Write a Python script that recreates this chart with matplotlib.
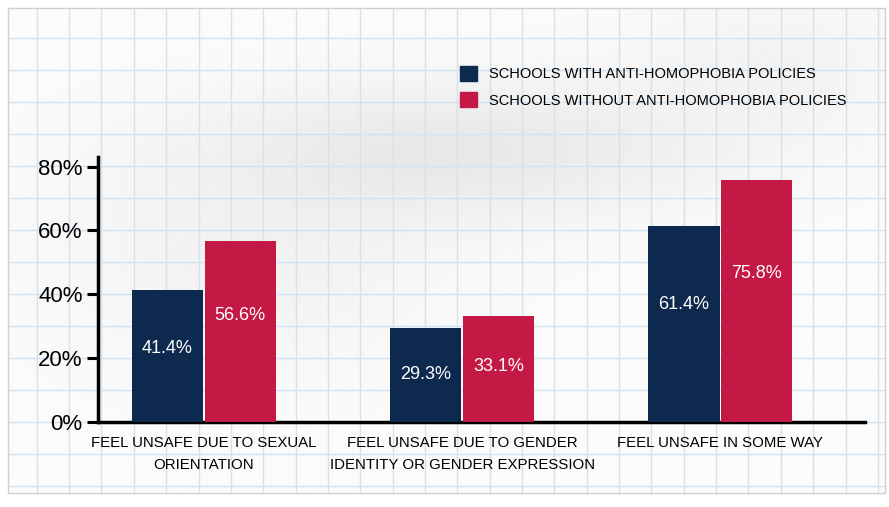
import numpy as np
import matplotlib
matplotlib.use("Agg")
import matplotlib.pyplot as plt
from matplotlib.patches import Patch

# Data
CATEGORIES = ["FEEL UNSAFE DUE TO SEXUAL\nORIENTATION",
              "FEEL UNSAFE DUE TO GENDER\nIDENTITY OR GENDER EXPRESSION",
              "FEEL UNSAFE IN SOME WAY"]
WITH_POLICY    = [41.4, 29.3, 61.4]
WITHOUT_POLICY = [56.6, 33.1, 75.8]
SERIES_NAMES   = ["SCHOOLS WITH ANTI-HOMOPHOBIA POLICIES",
                  "SCHOOLS WITHOUT ANTI-HOMOPHOBIA POLICIES"]
Y_TICKS        = [0, 20, 40, 60, 80]

NAVY    = "#0d2a4e"
CRIMSON = "#c41944"
GRID_BLUE = "#d3e2ee"

plt.rcParams['font.family'] = ['Liberation Sans', 'DejaVu Sans']

W, H = 889, 507
fig = plt.figure(figsize=(W / 100, H / 100), dpi=100)
fig.patch.set_facecolor("white")

# ─── background: grid paper sheet ───────────────────────────────────────────
bg = fig.add_axes([0, 0, 1, 1], zorder=-5)
bg.set_xlim(0, W); bg.set_ylim(H, 0); bg.axis("off")
px0, px1, py0, py1 = 8, 885, 8, 493
xx, yy = np.meshgrid(np.linspace(px0, px1, 300), np.linspace(py0, py1, 200))
shade = (0.985
         - 0.07 * np.exp(-(((xx - 470) / 260) ** 2 + ((yy - 150) / 70) ** 2))
         - 0.035 * np.exp(-(((xx - 250) / 200) ** 2 + ((yy - 260) / 120) ** 2))
         - 0.03 * np.exp(-(((xx - 780) / 150) ** 2 + ((yy - 60) / 80) ** 2)))
bg.imshow(shade, cmap="gray", vmin=0, vmax=1, extent=[px0, px1, py1, py0],
          aspect="auto", interpolation="bilinear")
for gx in np.arange(4.4, px1, 32.35):
    if gx > px0:
        bg.plot([gx, gx], [py0, py1], color=GRID_BLUE, lw=1)
for gy in np.arange(6, py1, 32.0):
    if gy > py0:
        bg.plot([px0, px1], [gy, gy], color=GRID_BLUE, lw=1)
bg.plot([px0, px1, px1, px0, px0], [py0, py0, py1, py1, py0], color="#d0d0d0", lw=1)
bg.set_xlim(0, W); bg.set_ylim(H, 0)

# ─── main chart ─────────────────────────────────────────────────────────────
ax = fig.add_axes([98 / W, 1 - 422 / H, 767 / W, 265 / H])
ax.set_facecolor("none")
x = np.arange(len(CATEGORIES))
bw = 0.276
off = 0.141
ax.bar(x - off, WITH_POLICY, bw, color=NAVY, label=SERIES_NAMES[0], zorder=3)
ax.bar(x + off, WITHOUT_POLICY, bw, color=CRIMSON, label=SERIES_NAMES[1], zorder=3)

# value labels sit a bit above the middle of each bar
for xi, v in zip(x, WITH_POLICY):
    ax.text(xi - off, v * 0.68 - 5, f"{v:.1f}%", color="white", ha="center", va="center",
            fontsize=13, zorder=4)
for xi, v in zip(x, WITHOUT_POLICY):
    ax.text(xi + off, v * 0.68 - 5, f"{v:.1f}%", color="white", ha="center", va="center",
            fontsize=13, zorder=4)

ax.set_xlim(-0.41, 2.56)
ax.set_ylim(0, 83)
ax.set_yticks(Y_TICKS)
ax.set_yticklabels([f"{t}%" for t in Y_TICKS], fontsize=16)
ax.set_xticks(x)
ax.set_xticklabels(CATEGORIES, fontsize=10.8, linespacing=1.75)
ax.tick_params(axis="x", length=0, pad=10)
ax.tick_params(axis="y", length=8, width=2.2, direction="out", pad=3)
for s in ["top", "right"]:
    ax.spines[s].set_visible(False)
for s in ["left", "bottom"]:
    ax.spines[s].set_linewidth(2.5)

handles = [Patch(color=NAVY), Patch(color=CRIMSON)]
fig.legend(handles, SERIES_NAMES, loc="upper left", bbox_to_anchor=(454 / W, 1 - 60 / H),
           frameon=False, fontsize=10.5, handlelength=1.2, handleheight=1.2,
           handletextpad=0.8, labelspacing=0.75, borderaxespad=0)

fig.savefig("out.png", dpi=100)
